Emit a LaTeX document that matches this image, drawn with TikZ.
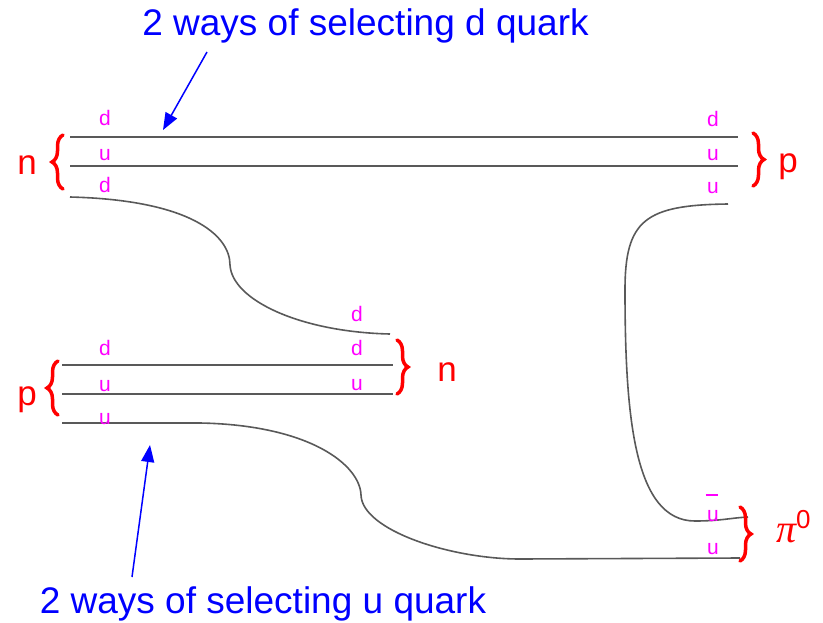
\documentclass[tikz,border=0pt]{standalone}
\usepackage{fontspec}
\setmainfont{Liberation Sans}
\newfontfamily\pifont{Liberation Serif}
\usetikzlibrary{arrows.meta,decorations.pathreplacing}
\definecolor{qmag}{HTML}{FF00FF}
\definecolor{qline}{HTML}{595959}
\definecolor{qred}{HTML}{FF0000}
\definecolor{qblue}{HTML}{0000FF}
\begin{document}
\begin{tikzpicture}[x=1pt,y=-1pt,
  quark/.style={draw=qline,line width=1.6pt},
  qlab/.style={text=qmag,font=\fontsize{21}{24}\selectfont,anchor=base,inner sep=0pt},
  hadron/.style={text=qred,font=\fontsize{35}{40}\selectfont,anchor=base,inner sep=0pt},
  redbrace/.style={draw=qred,line width=3.5pt,line cap=round,decorate,decoration={brace,amplitude=11pt}},
  note/.style={text=qblue,font=\fontsize{37}{44}\selectfont,anchor=base,inner sep=0pt},
  pointer/.style={draw=qblue,line width=1.5pt,-{Triangle[length=17pt,width=13pt]}}]
\useasboundingbox (0,0) rectangle (823,622);

% notes
\node[note] (topnote) at (365.5,35) {2 ways of selecting d quark};
\node[note] (botnote) at (263,613) {2 ways of selecting u quark};
\coordinate (ta) at (207,52);
\coordinate (tb) at (163,130);
\coordinate (ba) at (132,577);
\coordinate (bb) at (150,445);
\draw[pointer] (ta) -- (tb);
\draw[pointer] (ba) -- (bb);

% quark line end points
\coordinate (n1a) at (70,137);  \coordinate (n1b) at (738,137);
\coordinate (n2a) at (70,166);  \coordinate (n2b) at (738,166);
\coordinate (n3a) at (70,197);  \coordinate (n3b) at (390,334);
\coordinate (p1a) at (62,365);  \coordinate (p1b) at (393,365);
\coordinate (p2a) at (62,394);  \coordinate (p2b) at (393,394);
\coordinate (p3a) at (62,423);  \coordinate (p3b) at (740,558);
\coordinate (ua) at (728,204);  \coordinate (ub) at (748,517);

\draw[quark] (n1a) -- (n1b);
\draw[quark] (n2a) -- (n2b);
\draw[quark] (n3a) .. controls (190,200) and (230,235) .. (230,265)
  .. controls (232,300) and (300,332) .. (n3b);
\draw[quark] (p1a) -- (p1b);
\draw[quark] (p2a) -- (p2b);
\draw[quark] (p3a) -- (200,423) .. controls (310,425) and (360,465) .. (361,495)
  .. controls (362,530) and (450,559) .. (520,559) -- (p3b);
\draw[quark] (ua) .. controls (645,205) and (625,220) .. (625,290)
  .. controls (625,420) and (635,521) .. (695,521)
  .. controls (720,521) and (730,518) .. (ub);

% quark labels
\node[qlab] (l1) at (105,125) {d};
\node[qlab] (l2) at (105,160) {u};
\node[qlab] (l3) at (105,192) {d};
\node[qlab] (r1) at (713,126) {d};
\node[qlab] (r2) at (713,160) {u};
\node[qlab] (r3) at (713,193) {u};
\node[qlab] (m1) at (357,321) {d};
\node[qlab] (m2) at (357,355) {d};
\node[qlab] (m3) at (357,390) {u};
\node[qlab] (k1) at (105,355) {d};
\node[qlab] (k2) at (105,391) {u};
\node[qlab] (k3) at (105,424) {u};
\node[qlab] (pi1) at (713,521) {\rlap{\kern-1.5pt\raisebox{25pt}{\rule{12pt}{1.6pt}}}u};
\node[qlab] (pi2) at (713,554) {u};

% braces
\draw[redbrace] (63,189) -- (63,135);
\draw[redbrace] (753,133) -- (753,186);
\draw[redbrace] (397,340) -- (397,394);
\draw[redbrace] (58,415) -- (58,361);
\draw[redbrace] (740,507) -- (740,561);

% hadron labels
\node[hadron] (hn1) at (27,174) {n};
\node[hadron] (hp1) at (788,172) {p};
\node[hadron] (hn2) at (447,381) {n};
\node[hadron] (hp2) at (27,405) {p};
\node[hadron,anchor=base west] (hpi) at (776,542) {{\pifont\itshape\fontsize{40}{44}\selectfont π}\raisebox{14pt}{\fontsize{26}{30}\selectfont 0}};
\end{tikzpicture}
\end{document}
